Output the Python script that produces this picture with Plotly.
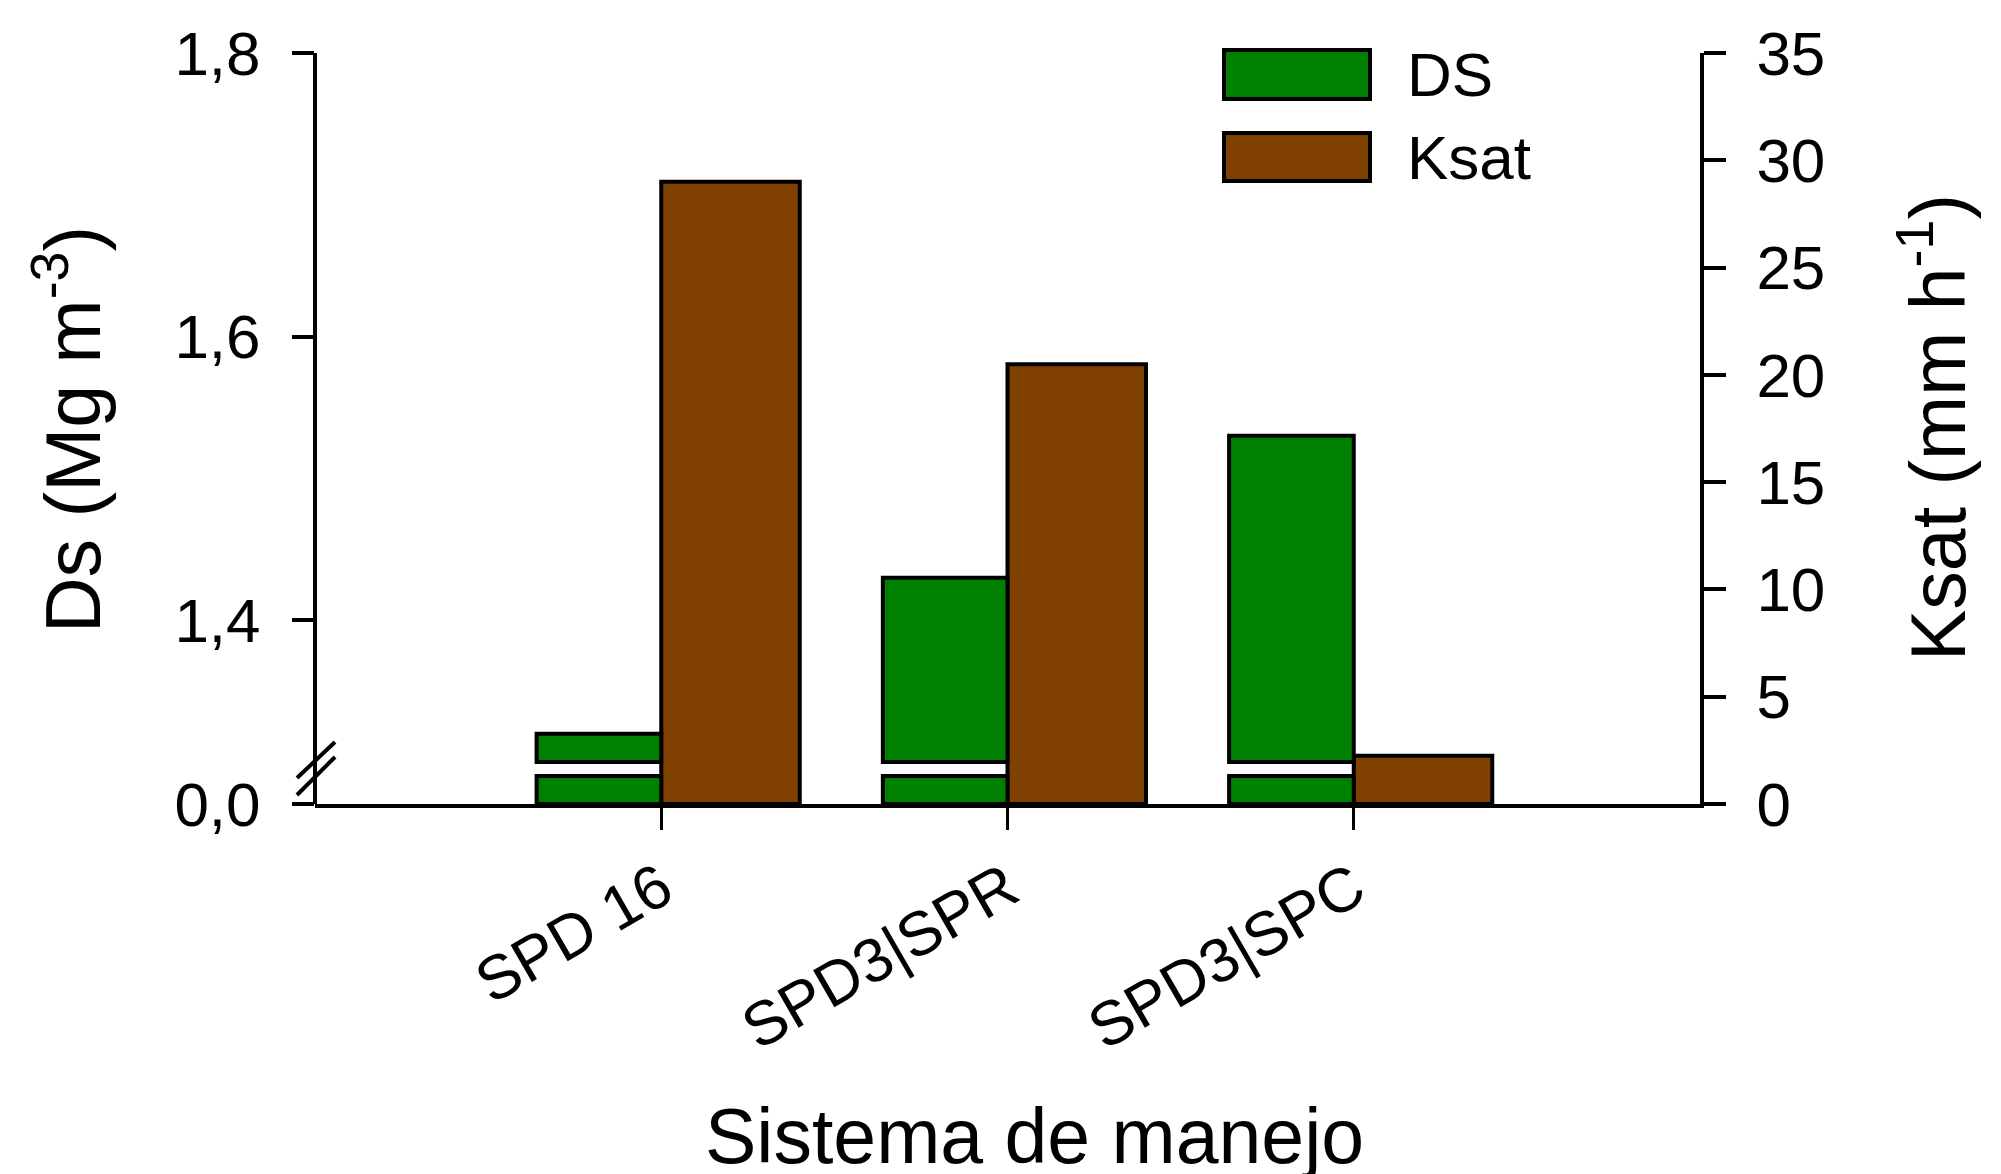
import plotly.graph_objects as go

# ---- data ----
categories = ["SPD 16", "SPD3|SPR", "SPD3|SPC"]
ds_values = [1.32, 1.43, 1.53]        # Mg m-3
ksat_values = [29.0, 20.5, 2.25]      # mm h-1
ds_ticks = [1.4, 1.6, 1.8]
ds_ticktext = ["1,4", "1,6", "1,8"]
ksat_ticks = [0, 5, 10, 15, 20, 25, 30, 35]

BREAK_LOW = 0.1    # top of lower segment
BREAK_HIGH = 1.3   # bottom of upper segment

W, H = 2001, 1174
OFF = 8  # page body margin
L, R, T, B = 307, 309, 45, 378
PW, PH = W - L - R, H - T - B

def px(x):
    return (x - OFF - L) / PW

def py(y):
    return (H - B - (y - OFF)) / PH

GREEN = "#008000"
BROWN = "#804000"
FONT = "Liberation Sans, Arial, sans-serif"

fig = go.Figure()

# Ksat
fig.add_trace(go.Bar(
    x=categories, y=ksat_values, offset=0, width=0.4, yaxis="y",
    marker=dict(color=BROWN, line=dict(color="black", width=4)),
    name="Ksat", showlegend=False))
# upper DS segment
fig.add_trace(go.Bar(
    x=categories, y=[v - BREAK_HIGH for v in ds_values], base=BREAK_HIGH,
    offset=-0.36, width=0.36, yaxis="y2",
    marker=dict(color=GREEN, line=dict(color="black", width=4)),
    name="DS", showlegend=False))
# lower DS segment
fig.add_trace(go.Bar(
    x=categories, y=[min(v, BREAK_LOW) for v in ds_values],
    offset=-0.36, width=0.36, yaxis="y3",
    marker=dict(color=GREEN, line=dict(color="black", width=4)),
    name="DS", showlegend=False))

up_bottom = py(776)
low_top = py(776) * 1.2
up_min = BREAK_HIGH - (1.8 - BREAK_HIGH) * (py(762) - up_bottom) / (1 - py(762))

fig.update_layout(
    width=W, height=H,
    margin=dict(l=L, r=R, t=T, b=B),
    plot_bgcolor="rgba(0,0,0,0)", paper_bgcolor="white",
    barmode="overlay",
    font=dict(family=FONT, size=62, color="black"),
    xaxis=dict(
        type="category", categoryorder="array", categoryarray=categories,
        range=[-1, 3], showline=True, linecolor="black", linewidth=4,
        ticks="outside", ticklen=22, tickwidth=3, tickcolor="black",
        tickangle=-30, tickfont=dict(size=62), showgrid=False,
        ticklabelstandoff=-2, anchor="y", automargin=False),
    yaxis=dict(
        domain=[0, 1], range=[0, 35], side="right", anchor="x",
        tickvals=ksat_ticks, showline=True, linecolor="black", linewidth=4,
        ticks="outside", ticklen=22, tickwidth=4, tickcolor="black",
        showgrid=False, zeroline=False, ticklabelstandoff=18,
        automargin=False),
    yaxis2=dict(
        domain=[up_bottom, 1], range=[up_min, 1.8],
        side="left", anchor="x", tickvals=ds_ticks, ticktext=ds_ticktext,
        showline=False, ticks="outside", ticklen=22, tickwidth=4,
        tickcolor="black", showgrid=False, zeroline=False,
        ticklabelstandoff=19, automargin=False),
    yaxis3=dict(
        domain=[0, low_top], range=[0, BREAK_LOW * 1.2],
        side="left", anchor="x", tickvals=[0], ticktext=["0,0"],
        showline=False, ticks="outside", ticklen=22, tickwidth=4,
        tickcolor="black", showgrid=False, zeroline=False,
        ticklabelstandoff=19, automargin=False),
)

shapes = []
# continuous left axis line
shapes.append(dict(type="line", xref="paper", yref="paper", x0=0, x1=0,
                   y0=0, y1=1, line=dict(color="black", width=4)))
# break marks
for (x0, y0, x1, y1) in [(297, 778, 335, 742), (297, 795, 335, 757)]:
    shapes.append(dict(type="line", xref="paper", yref="paper",
                       x0=px(x0), y0=py(y0), x1=px(x1), y1=py(y1),
                       line=dict(color="black", width=4)))
# legend boxes
for (y0, y1, col) in [(50, 99, GREEN), (133, 181, BROWN)]:
    shapes.append(dict(type="rect", xref="paper", yref="paper",
                       x0=px(1224), x1=px(1370), y0=py(y1), y1=py(y0),
                       fillcolor=col, line=dict(color="black", width=4)))
fig.update_layout(shapes=shapes)

annotations = [
    dict(text="DS", x=px(1405), y=py(74.5), xref="paper", yref="paper",
         xanchor="left", yanchor="middle", showarrow=False,
         font=dict(size=62)),
    dict(text="Ksat", x=px(1405), y=py(157), xref="paper", yref="paper",
         xanchor="left", yanchor="middle", showarrow=False,
         font=dict(size=62)),
    dict(text="Ds (Mg m<sup>-3</sup>)", x=px(67), y=py(430),
         xref="paper", yref="paper", xanchor="center", yanchor="middle",
         textangle=-90, showarrow=False, font=dict(size=77)),
    dict(text="Ksat (mm h<sup>-1</sup>)", x=px(1933), y=py(428),
         xref="paper", yref="paper", xanchor="center", yanchor="middle",
         textangle=-90, showarrow=False, font=dict(size=77)),
    dict(text="Sistema de manejo", x=px(1034), y=py(1136),
         xref="paper", yref="paper", xanchor="center", yanchor="middle",
         showarrow=False, font=dict(size=77)),
]
fig.update_layout(annotations=annotations)

fig.write_html("out.html")
